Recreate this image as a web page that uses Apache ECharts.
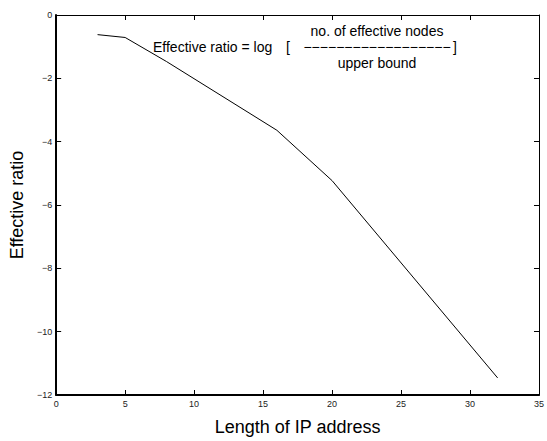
<!DOCTYPE html>
<html>
<head>
<meta charset="utf-8">
<script src="https://cdn.jsdelivr.net/npm/echarts@6/dist/echarts.min.js"></script>
<style>
  html, body { margin: 0; padding: 0; background: #fff; }
  #chart { width: 547px; height: 441px; }
</style>
</head>
<body>
<div id="chart"></div>
<script>
(function() {
  var ipLength = [3, 5, 8, 16, 20, 32];
  var effRatio = [-0.62, -0.71, -1.47, -3.64, -5.23, -11.46];

  var font = "'Liberation Sans', Arial, Helvetica, sans-serif";
  var ink = '#000';
  var labelInk = '#222';
  var noteFont = '14px ' + font;

  function minus(v) { return String(v).replace('-', '\u2212'); }

  var dashes = new Array(19).join('\u2212');
  var fraction = ['no. of effective nodes', dashes, 'upper bound'].join('\n');

  var chart = echarts.init(document.getElementById('chart'), null, { renderer: 'svg' });

  var tickIn = { show: true, inside: true, length: 5, lineStyle: { color: ink, width: 1 } };

  chart.setOption({
    animation: false,
    backgroundColor: '#fff',
    grid: { left: 50, right: 3.5, top: 15, bottom: 36, containLabel: false },
    xAxis: [
      {
        type: 'value', min: 0, max: 35, interval: 5, position: 'bottom',
        name: 'Length of IP address', nameLocation: 'middle', nameGap: 23,
        nameTextStyle: { fontFamily: font, fontSize: 18, color: ink },
        axisLine: { show: true, onZero: false, lineStyle: { color: ink, width: 2 } },
        axisTick: tickIn,
        axisLabel: { fontFamily: font, fontSize: 9, color: labelInk, margin: 4 },
        splitLine: { show: false }
      },
      {
        type: 'value', min: 0, max: 35, interval: 5, position: 'top',
        axisLine: { show: true, onZero: false, lineStyle: { color: ink, width: 1 } },
        axisTick: tickIn,
        axisLabel: { show: false },
        splitLine: { show: false }
      }
    ],
    yAxis: [
      {
        type: 'value', min: -12, max: 0, interval: 2, position: 'left',
        name: 'Effective ratio', nameLocation: 'middle', nameGap: 18,
        nameTextStyle: { fontFamily: font, fontSize: 18, color: ink },
        axisLine: { show: true, onZero: false, lineStyle: { color: ink, width: 2 } },
        axisTick: tickIn,
        axisLabel: { fontFamily: font, fontSize: 9, color: labelInk, margin: 4, formatter: minus },
        splitLine: { show: false }
      },
      {
        type: 'value', min: -12, max: 0, interval: 2, position: 'right',
        axisLine: { show: true, onZero: false, lineStyle: { color: ink, width: 1 } },
        axisTick: tickIn,
        axisLabel: { show: false },
        splitLine: { show: false }
      }
    ],
    series: [
      {
        type: 'line',
        xAxisIndex: 0,
        yAxisIndex: 0,
        data: ipLength.map(function(x, i) { return [x, effRatio[i]]; }),
        showSymbol: false,
        lineStyle: { color: ink, width: 1 }
      }
    ],
    graphic: [
      { type: 'text', x: 153, y: 47, style: { text: 'Effective ratio = log', font: noteFont, fill: ink, verticalAlign: 'middle' } },
      { type: 'text', x: 286, y: 47, style: { text: '[', font: noteFont, fill: ink, verticalAlign: 'middle' } },
      { type: 'text', x: 377, y: 47, style: { text: fraction, font: noteFont, fill: ink, align: 'center', verticalAlign: 'middle', lineHeight: 16 } },
      { type: 'text', x: 453, y: 47, style: { text: ']', font: noteFont, fill: ink, verticalAlign: 'middle' } }
    ]
  });
  window.addEventListener('resize', function() { chart.resize(); });
})();
</script>
</body>
</html>
